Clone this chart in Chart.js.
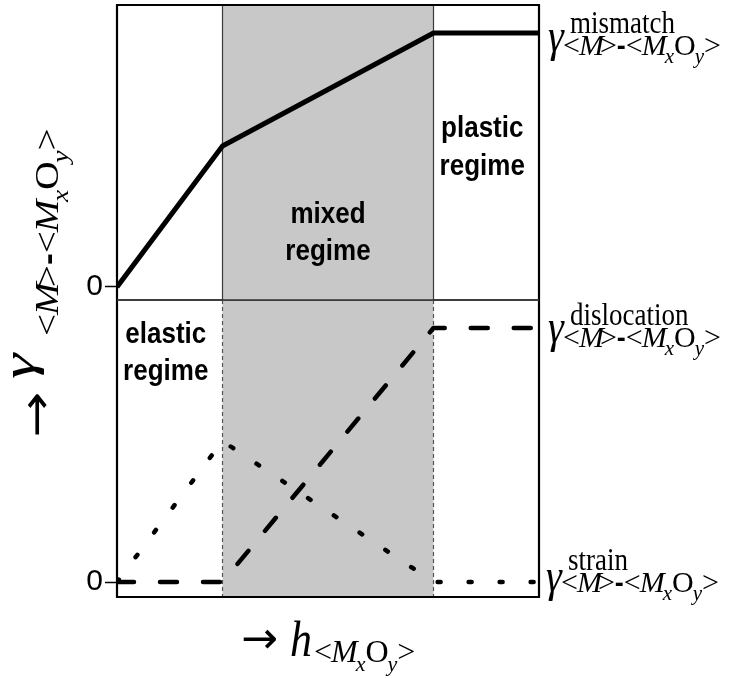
<!DOCTYPE html>
<html>
<head>
<meta charset="utf-8">
<script src="https://cdn.jsdelivr.net/npm/chart.js@4/dist/chart.umd.min.js"></script>
<style>
  html, body { margin: 0; padding: 0; background: #fff; }
  #wrap { position: relative; width: 733px; height: 678px; }
  #wrap canvas { position: absolute; left: 0; top: 0; }
</style>
</head>
<body>
<div id="wrap">
  <canvas id="lower" width="733" height="678"></canvas>
  <canvas id="upper" width="733" height="678"></canvas>
</div>
<script>
// Oxide thickness (normalised) at the breakpoints of the curves
const thickness   = [0, 0.25, 0.75, 1];
// Thicknesses separating elastic / mixed / plastic regimes
const regimeBounds = [0.25, 0.75];
// Interface energy contributions (normalised to the plateau value)
const mismatch    = [0, 0.555, 1, 1];
const dislocation = [0, 0, 1, 1];
const strain      = [0, 0.555, 0, 0];
// Tick values shown on each panel's energy axis
const yTicks = [0];
// Regime captions
const elasticLabel = ['elastic', 'regime'];
const mixedLabel   = ['mixed', 'regime'];
const plasticLabel = ['plastic', 'regime'];
// Curve names used as superscripts of the gamma labels
const curveNames = ['mismatch', 'dislocation', 'strain'];

const S = 1.15;               // vertical stretch applied to lettering
const SERIF = '"Liberation Serif", "Times New Roman", serif';
const SANS  = '"Liberation Sans", Arial, sans-serif';

function pts(ys) { return thickness.map((x, i) => ({ x, y: ys[i] })); }

// Draw a run of text pieces one after another; vertical runs read bottom-to-top
function drawRuns(ctx, x, y, runs, vertical, st) {
  const k = st || S;
  let pos = 0;
  for (const r of runs) {
    ctx.font = r.f;
    pos += (r.dx || 0);
    ctx.save();
    if (vertical) {
      ctx.translate(x + (r.dy || 0), y - pos * k);
      ctx.scale(1, k);
      ctx.rotate(-Math.PI / 2);
    } else {
      ctx.translate(x + pos, y + (r.dy || 0));
      ctx.scale(1, k);
    }
    ctx.fillText(r.t, 0, 0);
    ctx.restore();
    pos += ctx.measureText(r.t).width;
  }
  return pos;
}

// "<M>-<MxOy>" subscript
function interfaceRuns(size) {
  const rm = `${size}px ${SERIF}`;
  const it = `italic ${size}px ${SERIF}`;
  const sm = `italic ${Math.round(size * 0.7)}px ${SERIF}`;
  const low = size * 0.28;
  return [
    { t: '<', f: rm }, { t: 'M', f: it, dx: -1 }, { t: '>', f: rm, dx: -4 },
    { t: '-', f: `bold ${Math.round(size * 0.9)}px ${SANS}`, dx: 0 },
    { t: '<', f: rm }, { t: 'M', f: it, dx: -1 }, { t: 'x', f: sm, dy: low, dx: -2 },
    { t: 'O', f: rm }, { t: 'y', f: sm, dy: low, dx: -1 }, { t: '>', f: rm }
  ];
}
function oxideRuns(size) {
  const rm = `${size}px ${SERIF}`;
  const it = `italic ${size}px ${SERIF}`;
  const sm = `italic ${Math.round(size * 0.7)}px ${SERIF}`;
  const low = size * 0.28;
  return [
    { t: '<', f: rm }, { t: 'M', f: it, dx: -1 }, { t: 'x', f: sm, dy: low, dx: -2 },
    { t: 'O', f: rm }, { t: 'y', f: sm, dy: low, dx: -1 }, { t: '>', f: rm }
  ];
}

// gamma label at the right end of a curve
function gammaLabel(ctx, x, yLine, name, off) {
  ctx.fillStyle = '#000';
  ctx.textAlign = 'left';
  ctx.textBaseline = 'alphabetic';
  drawRuns(ctx, x, yLine + off.g, [{ t: 'γ', f: `italic 40px ${SERIF}` }]);
  drawRuns(ctx, x + 22, yLine + off.sup, [{ t: name, f: `27px ${SERIF}` }]);
  drawRuns(ctx, x + 15, yLine + off.sub, interfaceRuns(30), false, 1);
}

function boldLines(ctx, cx, baselines, lines) {
  ctx.fillStyle = '#000';
  ctx.textAlign = 'center';
  ctx.textBaseline = 'alphabetic';
  ctx.font = `bold 26px ${SANS}`;
  lines.forEach((t, i) => {
    ctx.save();
    ctx.translate(cx, baselines[i]);
    ctx.scale(1, S);
    ctx.fillText(t, 0, 0);
    ctx.restore();
  });
}

const panelPlugin = {
  id: 'panel',
  beforeDatasetsDraw(chart, args, opts) {
    const { ctx, chartArea: a, scales: { x } } = chart;
    const x0 = x.getPixelForValue(regimeBounds[0]);
    const x1 = x.getPixelForValue(regimeBounds[1]);
    ctx.save();
    ctx.fillStyle = '#c8c8c8';
    ctx.fillRect(x0, a.top, x1 - x0, a.bottom - a.top);
    ctx.strokeStyle = opts.lower ? '#555' : '#3a3a3a';
    ctx.lineWidth = 1.2;
    ctx.setLineDash(opts.lower ? [4, 3] : []);
    for (const px of [x0, x1]) {
      ctx.beginPath(); ctx.moveTo(px, a.top); ctx.lineTo(px, a.bottom); ctx.stroke();
    }
    ctx.setLineDash([]);
    if (opts.lower) {
      boldLines(ctx, (a.left + x0) / 2 - 4, [343, 380], elasticLabel);
    } else {
      boldLines(ctx, (x0 + x1) / 2, [223, 260], mixedLabel);
      boldLines(ctx, (x1 + a.right) / 2 - 4, [137, 175], plasticLabel);
    }
    ctx.restore();
  },
  afterDraw(chart, args, opts) {
    const { ctx, chartArea: a, scales: { y } } = chart;
    ctx.save();
    // panel frame: heavy outer edges, lighter shared divider
    ctx.strokeStyle = '#000';
    ctx.lineWidth = 2.2;
    ctx.beginPath();
    if (opts.lower) {
      ctx.moveTo(a.left, a.top); ctx.lineTo(a.left, a.bottom);
      ctx.lineTo(a.right, a.bottom); ctx.lineTo(a.right, a.top);
    } else {
      ctx.moveTo(a.left, a.bottom); ctx.lineTo(a.left, a.top);
      ctx.lineTo(a.right, a.top); ctx.lineTo(a.right, a.bottom);
    }
    ctx.stroke();
    ctx.strokeStyle = '#333';
    ctx.lineWidth = 1.5;
    ctx.beginPath();
    const yd = opts.lower ? a.top : a.bottom;
    ctx.moveTo(a.left, yd); ctx.lineTo(a.right, yd);
    ctx.stroke();

    const lx = a.right + 9;
    if (opts.lower) {
      gammaLabel(ctx, lx, y.getPixelForValue(dislocation[dislocation.length - 1]), curveNames[1], { g: 14, sup: -3, sub: 19 });
      gammaLabel(ctx, lx - 2, y.getPixelForValue(strain[strain.length - 1]), curveNames[2], { g: 9, sup: -12, sub: 10 });

      // axis titles
      ctx.fillStyle = '#000';
      ctx.textAlign = 'left';
      ctx.textBaseline = 'alphabetic';
      // horizontal: -> h_<MxOy>
      drawRuns(ctx, 241, 653, [{ t: '→', f: `44px "DejaVu Sans"` }], false, 1);
      drawRuns(ctx, 290, 656, [{ t: 'h', f: `italic 44px ${SERIF}` }]);
      drawRuns(ctx, 314, 662, oxideRuns(32), false, 1);
      // vertical: -> gamma_<M>-<MxOy>
      drawRuns(ctx, 51, 438, [{ t: '→', f: `44px "DejaVu Sans"` }], true, 1.25);
      drawRuns(ctx, 34, 379, [{ t: 'γ', f: `italic 46px ${SERIF}` }], true, 1.4);
      drawRuns(ctx, 58, 336, interfaceRuns(34), true);
    } else {
      gammaLabel(ctx, lx, y.getPixelForValue(mismatch[mismatch.length - 1]), curveNames[0], { g: 18, sup: 0, sub: 22 });
    }
    ctx.restore();
  }
};

function panelOptions(yMin, yMax, padTop, padBottom, lower) {
  return {
    responsive: false,
    animation: false,
    layout: { padding: { left: 0, right: 194, top: padTop, bottom: padBottom } },
    plugins: { legend: { display: false }, tooltip: { enabled: false }, panel: { lower } },
    elements: { point: { radius: 0 }, line: { tension: 0 } },
    scales: {
      x: { type: 'linear', min: 0, max: 1, display: false },
      y: {
        type: 'linear', min: yMin, max: yMax,
        afterBuildTicks(s) { s.ticks = yTicks.map(v => ({ value: v })); },
        afterFit(s) { s.width = 117; s.paddingTop = 0; s.paddingBottom = 0; },
        ticks: { color: '#000', padding: 2, font: { family: 'Liberation Sans', size: 30 } },
        grid: { drawOnChartArea: false, tickLength: 12, tickColor: '#000', tickWidth: 1.5 },
        border: { display: false }
      }
    }
  };
}

new Chart(document.getElementById('upper'), {
  type: 'line',
  data: {
    datasets: [{
      data: pts(mismatch), borderColor: '#000', borderWidth: 5,
      borderJoinStyle: 'round', borderCapStyle: 'butt', fill: false
    }]
  },
  options: panelOptions(-0.0512, 1.1102, 5, 378, false),
  plugins: [panelPlugin]
});

new Chart(document.getElementById('lower'), {
  type: 'line',
  data: {
    datasets: [
      {
        data: pts(dislocation), borderColor: '#000', borderWidth: 4.5,
        borderDash: [17, 26], borderCapStyle: 'round', borderJoinStyle: 'round', fill: false
      },
      {
        data: pts(strain), borderColor: '#000', borderWidth: 4.5,
        borderDash: [3, 28], borderCapStyle: 'round', borderJoinStyle: 'round', fill: false
      }
    ]
  },
  options: panelOptions(-0.059, 1.110, 300, 81, true),
  plugins: [panelPlugin]
});
</script>
</body>
</html>
